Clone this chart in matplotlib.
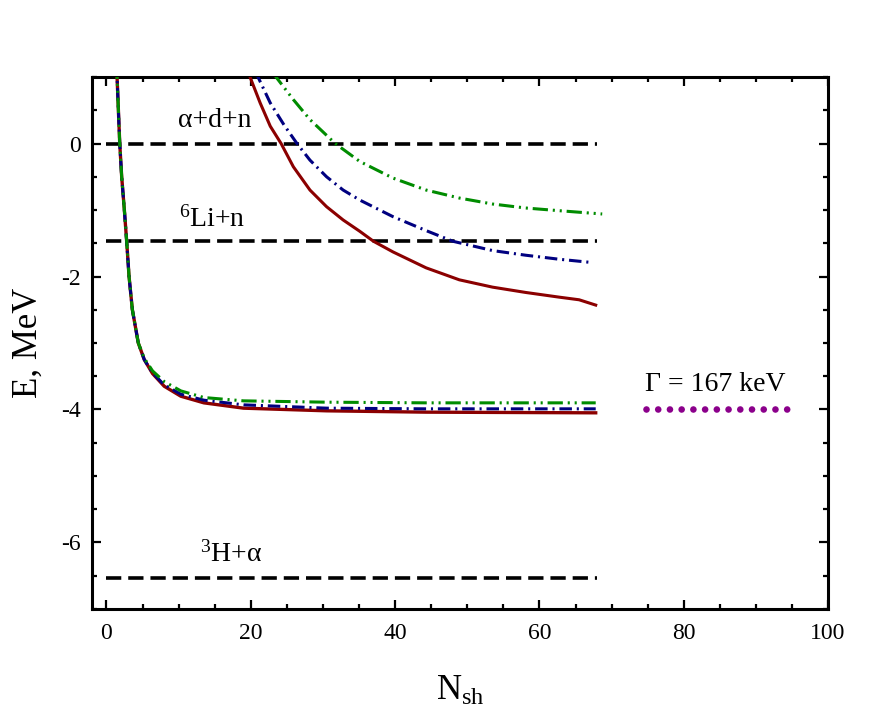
#!/usr/bin/env python3
"""plot.py — convergence of energies vs N_sh with thresholds."""
import matplotlib
matplotlib.use("Agg")
import matplotlib.pyplot as plt
from matplotlib.ticker import MultipleLocator

# lower (bound) curves: x = N_sh, E in MeV
LOW_X = [1.4, 1.47, 1.65, 1.84, 2.11, 2.48, 2.8, 3.13, 3.59, 4.41, 5.24, 6.39, 8.0,
         10.3, 13.5, 19.0, 30.5, 44.3, 67.8]
LOW_RED = [1.2, 1.0, 0.51, 0.0, -0.5, -1.0, -1.47, -2.0, -2.5, -3.0, -3.25, -3.46, -3.65,
           -3.80, -3.90, -3.98, -4.02, -4.04, -4.05]
LOW_BLUE = [1.2, 1.0, 0.51, 0.0, -0.5, -1.0, -1.47, -2.0, -2.5, -3.0, -3.25, -3.45, -3.63,
            -3.77, -3.86, -3.93, -3.98, -3.99, -3.99]
LOW_GREEN = [1.2, 1.0, 0.51, 0.0, -0.5, -1.0, -1.47, -2.0, -2.5, -3.0, -3.23, -3.42, -3.58,
             -3.72, -3.82, -3.87, -3.89, -3.90, -3.90]

# upper (resonance) curves
RED_X = [19.5, 19.86, 21.3, 22.7, 24.2, 25.9, 28.2, 30.5, 32.8, 35.1, 37.0, 39.7, 44.3,
         48.9, 53.5, 58.1, 62.7, 65.5, 67.8]
RED_Y = [1.11, 1.01, 0.61, 0.26, 0.0, -0.35, -0.70, -0.95, -1.15, -1.32, -1.47, -1.63, -1.87,
         -2.05, -2.16, -2.24, -2.31, -2.35, -2.43]
BLUE_X = [20.6, 21.0, 22.7, 24.6, 26.4, 28.2, 30.5, 32.8, 35.1, 39.7, 44.3, 48.0, 53.5,
          58.1, 62.7, 67.3]
BLUE_Y = [1.09, 1.0, 0.61, 0.28, 0.0, -0.25, -0.50, -0.70, -0.85, -1.10, -1.31, -1.47, -1.61,
          -1.68, -1.74, -1.79]
GREEN_X = [23.0, 23.5, 25.9, 28.2, 31.7, 35.1, 39.7, 44.3, 48.9, 53.5, 58.1, 62.7, 68.7]
GREEN_Y = [1.07, 1.0, 0.66, 0.36, 0.0, -0.27, -0.52, -0.70, -0.82, -0.91, -0.97, -1.01, -1.06]

# thresholds
THR_E = [0.0, -1.47, -6.53]
THR_X = [0, 68]
THR_LABELS = ["\u03b1+d+n", r"$^{6}$Li+n", "$^{3}$H+\u03b1"]
THR_LABEL_POS = [(15.0, 0.35), (14.6, -1.14), (17.3, -6.18)]

GAMMA_X = [74.7, 94.3]
GAMMA_Y = [-4.0, -4.0]
GAMMA_TEXT = "\u0393 = 167 keV"

RED = "#8b0000"
BLUE = "#000080"
GREEN = "#008c00"
PURPLE = "#8b008b"
DASH_DOT = (0, (9, 3.5, 1.5, 3.5))
DASH_DOT_DOT = (0, (11, 3.5, 1.5, 3.5, 1.5, 3.5))

plt.rcParams["font.family"] = ["Liberation Serif", "DejaVu Serif"]
plt.rcParams["mathtext.fontset"] = "custom"
plt.rcParams["mathtext.rm"] = "Liberation Serif"
plt.rcParams["mathtext.it"] = "Liberation Serif:italic"
plt.rcParams["axes.unicode_minus"] = False
plt.rcParams["lines.scale_dashes"] = False

fig = plt.figure(figsize=(8.69, 7.19), dpi=100)
ax = fig.add_axes([0.1059, 0.1530, 0.8470, 0.7399])

for e in THR_E:
    ax.plot(THR_X, [e, e], color="black", lw=2.6, ls=(0, (11, 5)))

ax.plot(LOW_X, LOW_RED, color=RED, lw=2.4, zorder=3)
ax.plot(LOW_X, LOW_BLUE, color=BLUE, lw=2.2, ls=DASH_DOT, zorder=3)
ax.plot(LOW_X, LOW_GREEN, color=GREEN, lw=2.2, ls=DASH_DOT_DOT, zorder=3)

ax.plot(RED_X, RED_Y, color=RED, lw=2.2, zorder=3)
ax.plot(BLUE_X, BLUE_Y, color=BLUE, lw=2.2, ls=DASH_DOT, zorder=3)
ax.plot(GREEN_X, GREEN_Y, color=GREEN, lw=2.2, ls=DASH_DOT_DOT, zorder=3)

ax.plot(GAMMA_X, GAMMA_Y, color=PURPLE, lw=4.8, ls=(0, (0.001, 8.44)),
        dash_capstyle="round", solid_capstyle="round")
ax.text(84.3, -3.62, GAMMA_TEXT, fontsize=20, ha="center", va="center")

for lab, (tx, ty) in zip(THR_LABELS, THR_LABEL_POS):
    ax.text(tx, ty, lab, fontsize=20, ha="center", va="center")

ax.set_xlim(-2, 100)
ax.set_ylim(-7, 1)
ax.xaxis.set_major_locator(MultipleLocator(20))
ax.xaxis.set_minor_locator(MultipleLocator(5))
ax.yaxis.set_major_locator(MultipleLocator(2))
ax.yaxis.set_minor_locator(MultipleLocator(0.5))
ax.tick_params(which="both", direction="in", top=True, right=True, width=1.6, labelsize=17)
ax.tick_params(which="major", length=6.5)
ax.tick_params(which="minor", length=3.8)
ax.tick_params(axis="x", which="major", pad=10)
ax.tick_params(axis="y", which="major", pad=8)
for sp in ax.spines.values():
    sp.set_linewidth(2.2)

ax.set_xlabel(r"N$_{\rm sh}$", fontsize=25, labelpad=22)
ax.set_ylabel("E, MeV", fontsize=25, labelpad=12)

fig.savefig("out.png", dpi=100)
